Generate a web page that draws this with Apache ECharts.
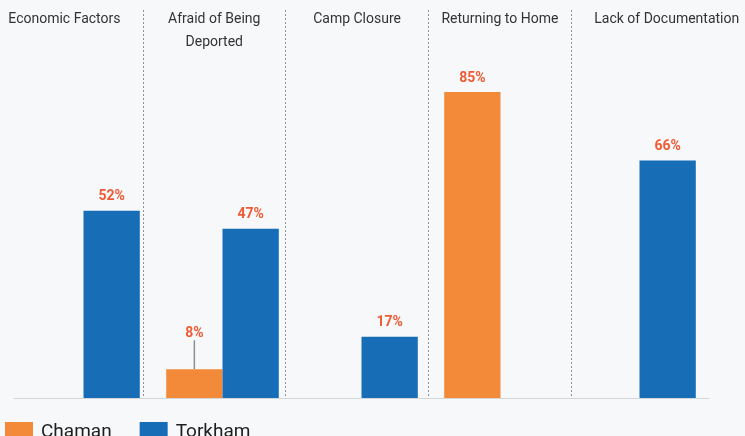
<!DOCTYPE html>
<html><head><meta charset="utf-8">
<script src="https://cdn.jsdelivr.net/npm/echarts@6/dist/echarts.min.js"></script>
<style>html,body{margin:0;padding:0;background:#f7f8f9}#c{width:745px;height:436px}</style>
</head><body><div id="c"></div>
<script>
// ---- data ----
const categories = ['Economic Factors', 'Afraid of Being\nDeported', 'Camp Closure', 'Returning to Home', 'Lack of Documentation'];
const chaman = [null, 8, null, 85, null];
const torkham = [52, 47, 17, null, 66];
const seriesNames = ['Chaman', 'Torkham'];

// ---- styles ----
const ORANGE = '#f28a3a', BLUE = '#176db6', LABEL = '#ef5b34';
const FONT = 'Roboto';
const TITLE = {fontSize: 14, fontFamily: FONT, color: '#333333', lineHeight: 23};

const chart = echarts.init(document.getElementById('c'), null, {renderer: 'canvas'});

const panelCats = categories.concat(['']);
const barLabel = {
  show: true, position: 'top', distance: 7,
  color: LABEL, fontWeight: 'bold', fontSize: 14, fontFamily: FONT,
  formatter: p => p.value + '%'
};

chart.setOption({
  backgroundColor: '#f7f8f9',
  animation: false,
  legend: {
    data: seriesNames, left: 0, top: 417, icon: 'rect',
    itemWidth: 28, itemHeight: 20, itemGap: 28,
    textStyle: {fontSize: 19, fontFamily: FONT, color: '#1e1e1e', padding: [0, 0, 0, 3]}
  },
  grid: [
    {left: 14, right: 36, top: 38, bottom: 38, outerBoundsMode: 'none'},
    {left: 0, width: 857, top: 10, bottom: 38, outerBoundsMode: 'none', containLabel: false}
  ],
  xAxis: [
    {
      type: 'category', data: categories, gridIndex: 0,
      axisLine: {lineStyle: {color: '#d3d5d8', width: 1}},
      axisTick: {show: false}, axisLabel: {show: false}, splitLine: {show: false}
    },
    {
      type: 'category', data: panelCats, gridIndex: 1, position: 'top',
      axisLine: {show: false}, axisTick: {show: false},
      axisLabel: Object.assign({
        interval: 0, margin: 2, verticalAlign: 'top',
        formatter: (v, i) => i === 0 ? '{left|' + v + '}' : (i === categories.length - 1 ? '{wide|' + v + '}' : v),
        rich: {
          wide: Object.assign({padding: [0, 0, 0, 48]}, TITLE),
          left: Object.assign({padding: [0, 14, 0, 0]}, TITLE)
        }
      }, TITLE),
      splitLine: {
        show: true,
        interval: (i) => i >= 1 && i <= categories.length - 1,
        lineStyle: {color: '#8c8f93', width: 1, type: [2, 2]}
      }
    }
  ],
  yAxis: [
    {type: 'value', gridIndex: 0, min: 0, max: 100, show: false},
    {type: 'value', gridIndex: 1, min: 0, max: 100, show: false}
  ],
  series: [
    {
      name: seriesNames[0], type: 'bar', xAxisIndex: 0, yAxisIndex: 0,
      data: chaman.map(v => (v !== null && v < 10) ? {value: v, labelLine: {show: true}} : v),
      itemStyle: {color: ORANGE},
      barGap: '0%', barCategoryGap: '19%',
      label: barLabel,
      labelLine: {show: false, lineStyle: {color: '#8a9096', width: 1.5}},
      labelLayout: p => (chaman[p.dataIndex] !== null && chaman[p.dataIndex] < 10) ? {dy: -22} : {}
    },
    {
      name: seriesNames[1], type: 'bar', xAxisIndex: 0, yAxisIndex: 0,
      data: torkham,
      itemStyle: {color: BLUE},
      barGap: '0%', barCategoryGap: '19%',
      label: barLabel
    }
  ]
});
</script>
</body></html>
